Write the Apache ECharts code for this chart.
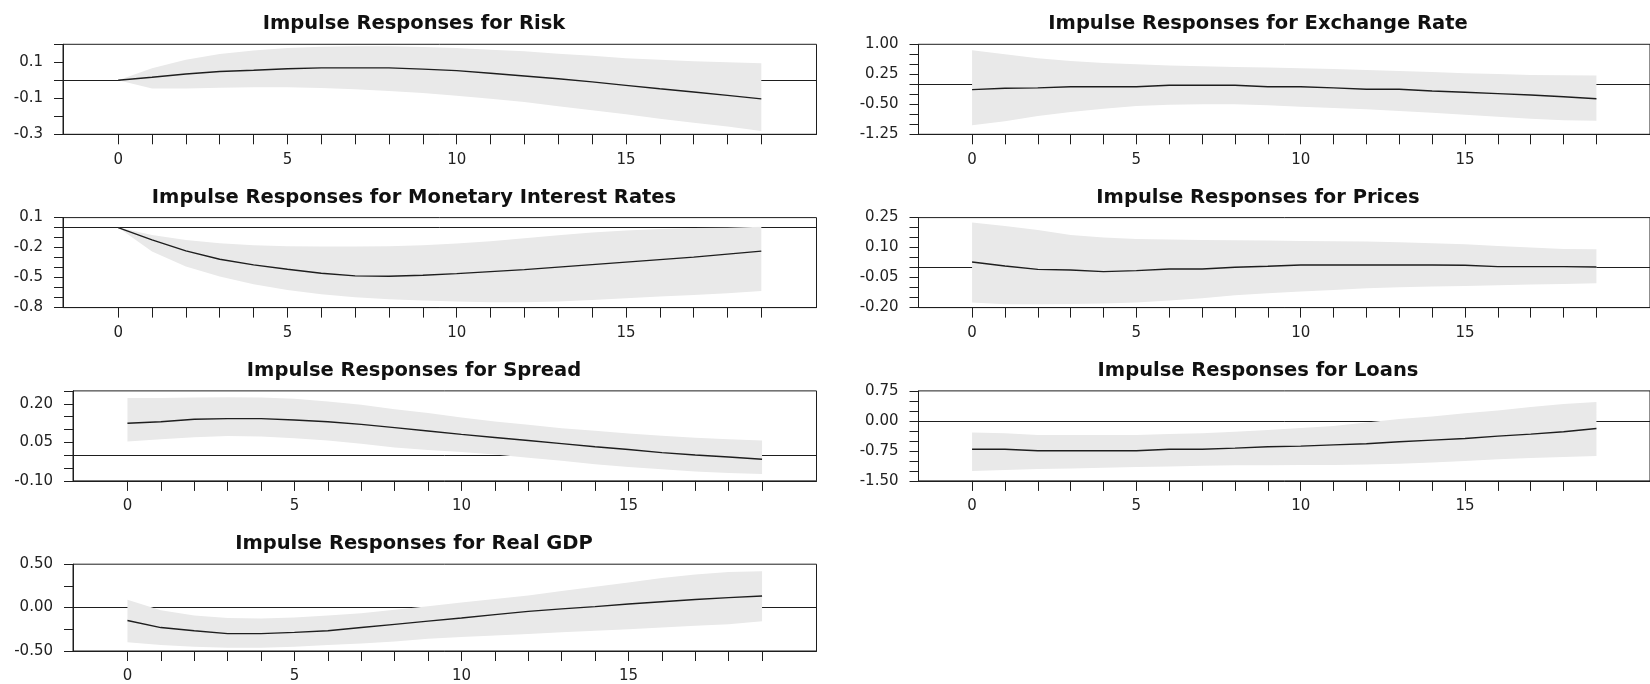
<!DOCTYPE html>
<html>
<head>
<meta charset="utf-8">
<script src="https://cdn.jsdelivr.net/npm/echarts@6/dist/echarts.min.js"></script>
<style>
    html, body { margin: 0; padding: 0; background: #fff; }
    #main { width: 1650px; height: 684px; }
</style>
</head>
<body>
<div id="main"></div>
<script>
// horizon steps and x tick labels
var steps = [0, 1, 2, 3, 4, 5, 6, 7, 8, 9, 10, 11, 12, 13, 14, 15, 16, 17, 18, 19];
var xLabels = [0, 5, 10, 15];

// Risk
var riskResp  = [0, 0.017, 0.035, 0.049, 0.056, 0.064, 0.069, 0.069, 0.069, 0.062, 0.054, 0.039, 0.024, 0.009, -0.009, -0.028, -0.047, -0.065, -0.084, -0.103];
var riskUpper = [0, 0.067, 0.114, 0.146, 0.166, 0.18, 0.187, 0.189, 0.189, 0.185, 0.18, 0.17, 0.161, 0.148, 0.137, 0.123, 0.114, 0.106, 0.1, 0.095];
var riskLower = [0, -0.045, -0.045, -0.041, -0.039, -0.039, -0.043, -0.05, -0.06, -0.071, -0.086, -0.103, -0.121, -0.144, -0.166, -0.189, -0.213, -0.236, -0.257, -0.282];
var riskTicks = ['-0.3', '-0.1', '0.1'];

// Monetary Interest Rates
var rateResp  = [0, -0.123, -0.233, -0.317, -0.373, -0.417, -0.457, -0.483, -0.487, -0.477, -0.46, -0.44, -0.42, -0.395, -0.37, -0.345, -0.32, -0.295, -0.265, -0.235];
var rateUpper = [0, -0.073, -0.123, -0.157, -0.177, -0.187, -0.19, -0.19, -0.187, -0.177, -0.16, -0.137, -0.107, -0.077, -0.05, -0.03, -0.015, -0.005, -0.002, 0.008];
var rateLower = [0, -0.24, -0.39, -0.49, -0.567, -0.623, -0.667, -0.697, -0.717, -0.73, -0.74, -0.747, -0.747, -0.74, -0.723, -0.707, -0.69, -0.673, -0.657, -0.633];
var rateTicks = ['-0.8', '-0.5', '-0.2', '0.1'];

// Spread
var spreadResp  = [0.124, 0.13, 0.14, 0.142, 0.142, 0.137, 0.13, 0.12, 0.107, 0.094, 0.081, 0.069, 0.057, 0.045, 0.033, 0.022, 0.01, 0.001, -0.007, -0.016];
var spreadUpper = [0.222, 0.222, 0.224, 0.225, 0.224, 0.219, 0.209, 0.196, 0.179, 0.164, 0.147, 0.131, 0.118, 0.105, 0.095, 0.084, 0.076, 0.068, 0.062, 0.057];
var spreadLower = [0.053, 0.062, 0.07, 0.075, 0.073, 0.066, 0.057, 0.044, 0.03, 0.02, 0.012, 0.003, -0.01, -0.022, -0.035, -0.046, -0.055, -0.063, -0.069, -0.073];
var spreadTicks = ['-0.10', '0.05', '0.20'];

// Real GDP
var gdpResp  = [-0.148, -0.23, -0.267, -0.3, -0.3, -0.285, -0.267, -0.23, -0.193, -0.156, -0.119, -0.081, -0.044, -0.015, 0.011, 0.041, 0.067, 0.093, 0.115, 0.133];
var gdpUpper = [0.09, -0.03, -0.09, -0.12, -0.125, -0.115, -0.09, -0.065, -0.025, 0.015, 0.06, 0.1, 0.14, 0.19, 0.24, 0.29, 0.34, 0.38, 0.41, 0.42];
var gdpLower = [-0.4, -0.43, -0.45, -0.463, -0.463, -0.45, -0.43, -0.415, -0.39, -0.36, -0.34, -0.32, -0.304, -0.285, -0.267, -0.248, -0.23, -0.21, -0.193, -0.156];
var gdpTicks = ['-0.50', '0.00', '0.50'];

// Exchange Rate
var fxResp  = [-0.133, -0.1, -0.09, -0.06, -0.06, -0.06, -0.025, -0.025, -0.025, -0.06, -0.06, -0.09, -0.125, -0.125, -0.167, -0.2, -0.233, -0.267, -0.31, -0.36];
var fxUpper = [0.85, 0.75, 0.65, 0.58, 0.53, 0.5, 0.47, 0.45, 0.43, 0.42, 0.4, 0.38, 0.36, 0.33, 0.31, 0.275, 0.26, 0.233, 0.225, 0.217];
var fxLower = [-1.025, -0.925, -0.79, -0.69, -0.61, -0.54, -0.51, -0.5, -0.5, -0.525, -0.56, -0.59, -0.625, -0.667, -0.71, -0.76, -0.81, -0.86, -0.9, -0.91];
var fxTicks = ['-1.25', '-0.50', '0.25', '1.00'];

// Prices
var priceResp  = [0.028, 0.008, -0.009, -0.012, -0.02, -0.015, -0.007, -0.007, 0.002, 0.007, 0.013, 0.013, 0.013, 0.013, 0.013, 0.012, 0.005, 0.005, 0.005, 0.003];
var priceUpper = [0.225, 0.208, 0.188, 0.163, 0.15, 0.143, 0.14, 0.138, 0.137, 0.135, 0.133, 0.132, 0.13, 0.127, 0.122, 0.117, 0.108, 0.1, 0.093, 0.092];
var priceLower = [-0.175, -0.183, -0.183, -0.182, -0.18, -0.175, -0.165, -0.153, -0.138, -0.128, -0.12, -0.112, -0.103, -0.098, -0.095, -0.092, -0.088, -0.085, -0.082, -0.078];
var priceTicks = ['-0.20', '-0.05', '0.10', '0.25'];

// Loans
var loanResp  = [-0.71, -0.71, -0.745, -0.745, -0.745, -0.745, -0.71, -0.71, -0.68, -0.645, -0.63, -0.6, -0.57, -0.52, -0.48, -0.44, -0.38, -0.33, -0.27, -0.19];
var loanUpper = [-0.29, -0.31, -0.35, -0.35, -0.35, -0.35, -0.33, -0.31, -0.27, -0.23, -0.18, -0.13, -0.04, 0.05, 0.11, 0.19, 0.26, 0.35, 0.42, 0.47];
var loanLower = [-1.25, -1.23, -1.2, -1.19, -1.17, -1.15, -1.14, -1.12, -1.11, -1.11, -1.1, -1.1, -1.09, -1.07, -1.04, -1.0, -0.96, -0.93, -0.9, -0.88];
var loanTicks = ['-1.50', '-0.75', '0.00', '0.75'];

var panels = [
    {name: 'Risk', resp: riskResp, upper: riskUpper, lower: riskLower, ticks: riskTicks, min: -0.3, max: 0.2, step: 0.1},
    {name: 'Monetary Interest Rates', resp: rateResp, upper: rateUpper, lower: rateLower, ticks: rateTicks, min: -0.8, max: 0.1, step: 0.1},
    {name: 'Spread', resp: spreadResp, upper: spreadUpper, lower: spreadLower, ticks: spreadTicks, min: -0.1, max: 0.25, step: 0.05},
    {name: 'Real GDP', resp: gdpResp, upper: gdpUpper, lower: gdpLower, ticks: gdpTicks, min: -0.5, max: 0.5, step: 0.25},
    {name: 'Exchange Rate', resp: fxResp, upper: fxUpper, lower: fxLower, ticks: fxTicks, min: -1.25, max: 1.0, step: 0.25},
    {name: 'Prices', resp: priceResp, upper: priceUpper, lower: priceLower, ticks: priceTicks, min: -0.2, max: 0.25, step: 0.05},
    {name: 'Loans', resp: loanResp, upper: loanUpper, lower: loanLower, ticks: loanTicks, min: -1.5, max: 0.75, step: 0.25}
];

// layout: column / row of each panel
var cols = [0, 0, 0, 0, 1, 1, 1];
var rows = [0, 1, 2, 3, 0, 1, 2];
var gridLeft = [63, 63, 73, 73, 918.5, 918.5, 918.5];
var gridRight = [816.5, 816.5, 816.5, 816.5, 1661.5, 1661.5, 1661.5];
var titleCenter = [414, 1258];
var ink = '#1e1e1e';
var band = '#e9e9e9';
var font = 'DejaVu Sans';

var titles = [], grids = [], xAxes = [], yAxes = [], series = [];

// whole confidence band as one polygon (upper edge then lower edge reversed)
function bandRenderer(p) {
    return function (params, api) {
        if (params.dataIndex !== 0) {
            return null;
        }
        var pts = [];
        steps.forEach(function (s, j) { pts.push(api.coord([s, p.upper[j]])); });
        for (var j = steps.length - 1; j >= 0; j--) {
            pts.push(api.coord([steps[j], p.lower[j]]));
        }
        return {
            type: 'polygon',
            shape: {points: pts},
            style: {fill: band, stroke: null}
        };
    };
}

panels.forEach(function (p, i) {
    var top = 44.3 + 173.3 * rows[i];
    titles.push({
        text: 'Impulse Responses for ' + p.name,
        left: titleCenter[cols[i]],
        top: top - 30,
        textAlign: 'center',
        padding: 0,
        textStyle: {fontFamily: font, fontWeight: 'bold', fontSize: 19.5, color: '#111'}
    });
    grids.push({
        left: gridLeft[i],
        top: top,
        width: gridRight[i] - gridLeft[i],
        height: 90,
        show: true,
        borderColor: ink,
        borderWidth: 1
    });
    xAxes.push({
        type: 'value',
        gridIndex: i,
        min: -1.63,
        max: 20.63,
        splitLine: {show: false},
        axisLine: {onZero: false, lineStyle: {color: ink}},
        axisTick: {customValues: steps, length: 10, lineStyle: {color: ink}},
        axisLabel: {customValues: xLabels, margin: 18, color: '#222', fontFamily: font, fontSize: 15}
    });
    var labelVals = p.ticks.map(Number);
    yAxes.push({
        type: 'value',
        gridIndex: i,
        min: p.min,
        max: p.max,
        interval: p.step,
        splitLine: {show: false},
        axisLine: {onZero: false, lineStyle: {color: ink}},
        axisTick: {length: 9, lineStyle: {color: ink}},
        axisLabel: {
            customValues: labelVals,
            margin: 20,
            color: '#222',
            fontFamily: font,
            fontSize: 15,
            formatter: function (v) {
                for (var k = 0; k < labelVals.length; k++) {
                    if (Math.abs(labelVals[k] - v) < 1e-9) {
                        return p.ticks[k];
                    }
                }
                return '';
            }
        }
    });
    series.push({
        type: 'custom',
        xAxisIndex: i,
        yAxisIndex: i,
        silent: true,
        clip: true,
        z: 2,
        renderItem: bandRenderer(p),
        data: steps.map(function (s, j) { return [s, p.lower[j], p.upper[j]]; }),
        encode: {x: 0, y: [1, 2]},
        markLine: {
            silent: true,
            z: 1,
            symbol: 'none',
            label: {show: false},
            lineStyle: {color: ink, type: 'solid', width: 1},
            data: [{yAxis: 0}]
        }
    });
    series.push({
        type: 'line',
        xAxisIndex: i,
        yAxisIndex: i,
        symbol: 'none',
        silent: true,
        z: 3,
        lineStyle: {color: ink, width: 1.4},
        data: steps.map(function (s, j) { return [s, p.resp[j]]; })
    });
});

var myChart = echarts.init(document.getElementById('main'));
myChart.setOption({
    animation: false,
    backgroundColor: '#fff',
    title: titles,
    grid: grids,
    xAxis: xAxes,
    yAxis: yAxes,
    series: series
});
</script>
</body>
</html>
